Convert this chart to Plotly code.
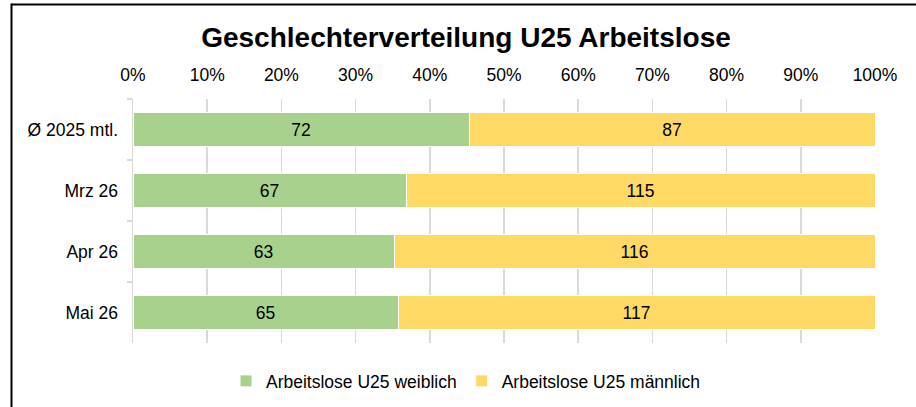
import plotly.graph_objects as go

categories = ["Ø 2025 mtl.", "Mrz 26", "Apr 26", "Mai 26"]
weiblich = [72, 67, 63, 65]
maennlich = [87, 115, 116, 117]
tick_vals = [0, 10, 20, 30, 40, 50, 60, 70, 80, 90, 100]
tick_text = [f"{v}%" for v in tick_vals]

W, H = 916, 407
L, R, T, B = 133, 41, 99, 64
pw, ph = W - L - R, H - T - B

def px_x(p):
    return (p - L) / pw

def px_y(p):
    return 1 - (p - T) / ph

FONT = "Liberation Sans, Arial, sans-serif"
FS = 17.5

fig = go.Figure()
fig.add_trace(go.Bar(
    y=categories, x=weiblich, orientation="h", name="Arbeitslose U25 weiblich",
    marker=dict(color="#A9D18E", line=dict(color="white", width=1)),
    text=weiblich, texttemplate="%{text}", textposition="inside",
    insidetextanchor="middle", textfont=dict(size=FS, color="#000000"),
    hoverinfo="skip"))
fig.add_trace(go.Bar(
    y=categories, x=maennlich, orientation="h", name="Arbeitslose U25 männlich",
    marker=dict(color="#FFD966", line=dict(color="white", width=1)),
    text=maennlich, texttemplate="%{text}", textposition="inside",
    insidetextanchor="middle", textfont=dict(size=FS, color="#000000"),
    hoverinfo="skip"))

border = dict(color="black", width=2)
fig.update_layout(
    width=W, height=H,
    margin=dict(l=L, r=R, t=T, b=B, autoexpand=False),
    barmode="stack", barnorm="percent", bargap=0.43,
    paper_bgcolor="white", plot_bgcolor="white",
    font=dict(family=FONT, size=FS, color="#000000"),
    title=dict(text="<b>Geschlechterverteilung U25 Arbeitslose</b>",
               x=466 / W, xref="container", xanchor="center",
               y=1 - 37 / H, yref="container", yanchor="middle",
               font=dict(size=28, color="#000000", family=FONT)),
    xaxis=dict(side="top", range=[0, 100], tickvals=tick_vals, ticktext=tick_text,
               showgrid=True, gridcolor="#d9d9d9", gridwidth=1.5,
               zeroline=False, showline=False, ticks="",
               ticklabelstandoff=14, fixedrange=True),
    yaxis=dict(autorange="reversed", type="category",
               showline=True, linecolor="#d9d9d9", linewidth=1.5,
               ticks="outside", tickson="boundaries", ticklen=5,
               tickcolor="#d9d9d9", tickwidth=1.5,
               ticklabelstandoff=10, showgrid=False, fixedrange=True),
    legend=dict(orientation="h", x=px_x(466), xanchor="center",
                y=px_y(381), yanchor="middle", font=dict(size=FS),
                itemwidth=30, traceorder="normal"),
    shapes=[
        dict(type="line", xref="paper", yref="paper",
             x0=px_x(11.5), x1=px_x(920), y0=px_y(4.5), y1=px_y(4.5),
             line=border, layer="above"),
        dict(type="line", xref="paper", yref="paper",
             x0=px_x(11.5), x1=px_x(11.5), y0=px_y(3.5), y1=px_y(412),
             line=border, layer="above"),
    ],
)

fig.write_html("out.html",
               config={"displayModeBar": False, "staticPlot": True},
               post_script="document.body.style.margin='0';document.body.style.overflow='hidden';")
